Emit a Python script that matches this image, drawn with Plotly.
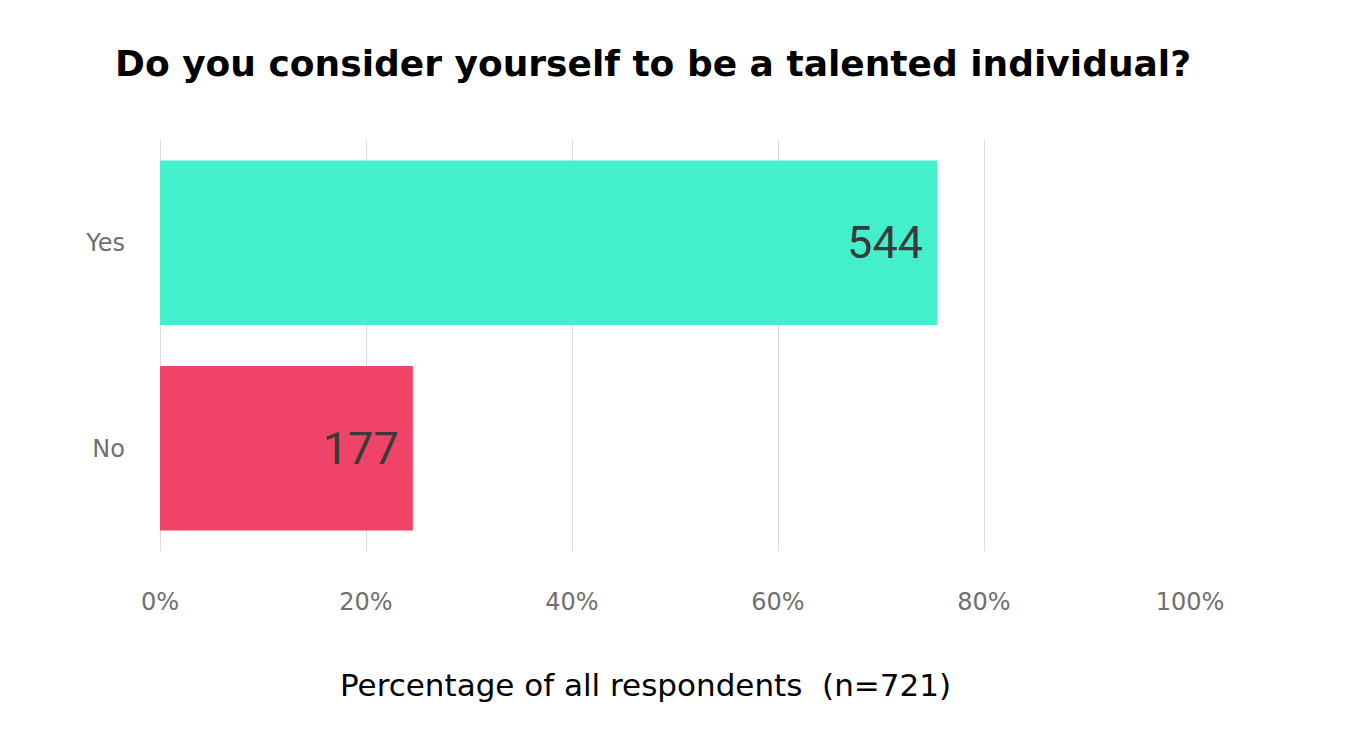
import plotly.graph_objects as go

categories = ["Yes", "No"]
counts = [544, 177]
total = 721
percentages = [c / total * 100 for c in counts]
colors = ["#43F0CB", "#F04368"]
tick_vals = [0, 20, 40, 60, 80, 100]
tick_text = ["0%", "20%", "40%", "60%", "80%", "100%"]
x_title = "Percentage of all respondents  (n=721)"

fig = go.Figure(go.Bar(
    x=percentages,
    y=categories,
    orientation="h",
    marker=dict(color=colors, line=dict(width=0)),
    text=[str(c) + "\u00a0" for c in counts],
    textposition="inside",
    insidetextanchor="end",
    textfont=dict(family="Roboto", size=45, color="#3a3a3a"),
    hoverinfo="skip",
))

fig.update_layout(
    width=1345, height=729,
    paper_bgcolor="white", plot_bgcolor="white",
    margin=dict(l=152, r=163, t=132, b=186),
    bargap=0.2,
    showlegend=False,
    title=dict(
        text="<b>Do you consider yourself to be a talented individual?</b>",
        x=107 / 1345, xanchor="left", xref="container",
        y=1 - 55 / 729, yanchor="middle", yref="container",
        font=dict(family="DejaVu Sans", size=36, color="black"),
    ),
    xaxis=dict(
        range=[0, 100],
        tickvals=tick_vals, ticktext=tick_text,
        showgrid=True, gridcolor="#dcdcdc", gridwidth=1,
        zeroline=True, zerolinecolor="#dcdcdc", zerolinewidth=1,
        showline=False,
        ticks="", ticklabelstandoff=34,
        tickfont=dict(family="DejaVu Sans", size=24, color="#707070"),
        fixedrange=True,
    ),
    yaxis=dict(
        categoryorder="array", categoryarray=["No", "Yes"],
        showgrid=False, showline=False, zeroline=False,
        ticks="", ticklabelstandoff=34,
        tickfont=dict(family="DejaVu Sans", size=24, color="#707070"),
        fixedrange=True,
    ),
    annotations=[dict(
        text=x_title, showarrow=False,
        xref="paper", yref="paper",
        x=(637 - 152) / 1030, y=-(677 - 543) / 411,
        xanchor="center", yanchor="middle",
        font=dict(family="DejaVu Sans", size=31, color="black"),
    )],
)

fig.write_html("out.html")
